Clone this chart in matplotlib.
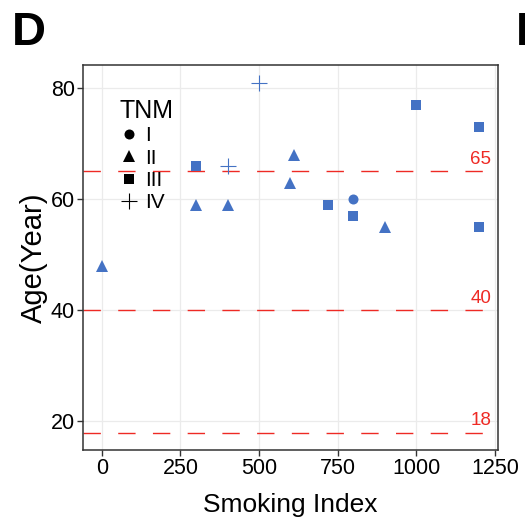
import matplotlib
matplotlib.use('Agg')
import matplotlib.pyplot as plt
from matplotlib.lines import Line2D

plt.rcParams['font.family'] = ['Liberation Sans', 'DejaVu Sans']

# Data
smoking_index = [0, 300, 400, 500, 300, 400, 610, 600, 720, 800, 800, 900, 1000, 1200, 1200]
age = [48, 66, 66, 81, 59, 59, 68, 63, 59, 60, 57, 55, 77, 73, 55]
tnm = ['II', 'III', 'IV', 'IV', 'II', 'II', 'II', 'II', 'III', 'I', 'III', 'II', 'III', 'III', 'III']
stages = ['I', 'II', 'III', 'IV']
age_cutoffs = [65, 40, 18]
x_ticks = [0, 250, 500, 750, 1000, 1250]
y_ticks = [20, 40, 60, 80]

markers = {'I': 'o', 'II': '^', 'III': 's', 'IV': '+'}
msizes = {'I': 7.2, 'II': 8.8, 'III': 6.6, 'IV': 12}
blue = '#4472C4'
red = '#EE2A24'

fig = plt.figure(figsize=(5.25, 5.18), dpi=100)
ax = fig.add_axes([83/525, 1-450/518, 415/525, 385/518])

ax.set_xlim(-60, 1260)
ax.set_ylim(14.85, 84.15)

ax.grid(True, color='#EBEBEB', lw=0.9)
ax.set_axisbelow(True)

for c in age_cutoffs:
    ax.axhline(c, color=red, lw=1.0, ls=(0, (12.5, 12.5)), zorder=2)
    ax.text(1205, c + 0.6, str(c), color=red, fontsize=13.5, ha='center', va='bottom', zorder=3)

for st in stages:
    xs = [x for x, t in zip(smoking_index, tnm) if t == st]
    ys = [y for y, t in zip(age, tnm) if t == st]
    ax.plot(xs, ys, ls='none', marker=markers[st], ms=msizes[st], color=blue,
            mec=blue, mew=0.8 if st == 'IV' else 0, zorder=4)

leg_ms = {'I': 7.2, 'II': 9.0, 'III': 6.5, 'IV': 12}
handles = [Line2D([], [], ls='none', marker=markers[s], ms=leg_ms[s],
                  color='black', mew=0.8 if s == 'IV' else 0) for s in stages]
leg = ax.legend(handles, stages, title='TNM', loc='upper left', bbox_to_anchor=(0.052, 0.95),
                frameon=False, fontsize=15, title_fontsize=18, handlelength=0.9,
                handletextpad=0.35, labelspacing=0.16, borderpad=0.2)
leg._legend_box.align = 'left'

ax.set_xticks(x_ticks)
ax.set_yticks(y_ticks)
ax.tick_params(axis='both', labelsize=15.5, length=4, width=1, color='#333333', labelcolor='black', pad=2)
for s in ax.spines.values():
    s.set_color('#333333')
    s.set_linewidth(1.1)

ax.set_xlabel('Smoking Index', fontsize=19, labelpad=10)
ax.set_ylabel('Age(Year)', fontsize=21, labelpad=2)

fig.text(12/525, 1-45/518, 'D', fontsize=34, fontweight='bold', ha='left', va='baseline')
fig.text(516/525, 1-45/518, 'E', fontsize=34, fontweight='bold', ha='left', va='baseline')

fig.savefig('out.png', dpi=100)
